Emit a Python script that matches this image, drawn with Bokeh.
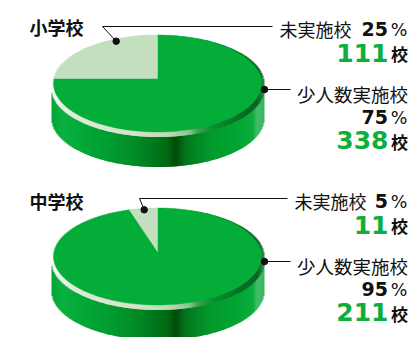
import numpy as np
from bokeh.embed import file_html
from bokeh.models import Range1d
from bokeh.plotting import figure
from bokeh.resources import INLINE
from bokeh.core.properties import value

# School survey data
panels = ["小学校", "中学校"]
not_done_pct = [25, 5]
small_done_pct = [75, 95]
not_done_count = [111, 11]
small_done_count = [338, 211]

GREEN = "#03ad38"
PALE = "#c3dfc0"
TEXT_GREEN = "#0dae3c"
BLACK = "#111111"
JP = "Noto Sans CJK JP"
LATIN = "DejaVu Sans"

# Shading stops across the cylinder wall: fraction of width, colour
wall_stops = [(0.0, "#06a836"), (0.05, "#0cb442"), (0.16, "#02aa38"), (0.3, "#029c30"),
              (0.45, "#028222"), (0.55, "#016a14"), (0.585, "#004c08"), (0.63, "#03761c"),
              (0.74, "#039a2c"), (0.88, "#02a834"), (0.95, "#0cb040"), (0.97, "#44c06c"),
              (1.0, "#3cba62")]
rim_stops = [(0.0, "#ffffff"), (0.04, "#f0f8ee"), (0.12, "#e2efdb"), (0.38, "#d8e9d0"),
             (0.55, "#c4ddbc"), (0.65, "#8cc894"), (0.69, "#3fa653"), (0.76, "#08932e"),
             (0.9, "#0a7026"), (0.97, "#0d6528"), (1.0, "#2c8a44")]


def rgb(h):
    return np.array([int(h[i:i + 2], 16) for i in (1, 3, 5)], float)


def shade(stops, t, stripe=0.0):
    xs = [s[0] for s in stops]
    cs = np.array([rgb(s[1]) for s in stops])
    ch = [np.interp(t, xs, cs[:, k]) for k in range(3)]
    # Fine vertical ribbing on the moulded edge
    rib = 1 - stripe * (np.arange(len(t)) % 2)
    return ["#%02x%02x%02x" % (int(a * f), int(c * f), int(d * f))
            for a, c, d, f in zip(*ch, rib)]


def label(p, x, y, txt, size, color=BLACK, style="normal", align="right", font=JP):
    p.text([x], [y], text=[txt], text_font=value(font), text_font_size=value(f"{size}px"),
           text_color=color, text_font_style=style, text_align=align, text_baseline="middle")


def strips(p, cx, rx):
    edges = np.arange(cx - rx, cx + rx + 0.01, 1.0)
    left, right = edges[:-1], edges[1:]
    mid = (left + right) / 2
    root = np.sqrt(np.clip(1 - ((mid - cx) / rx) ** 2, 0, 1))
    return left, right, (mid - left[0]) / (2 * rx), root


def sector(cx, ax, ay, off, rx, ry, rtop, start_pct, end_pct):
    # Percentages run clockwise from twelve o'clock around an apex set above the ellipse centre
    a = np.radians(np.linspace(start_pct, end_pct, 240) * 3.6)
    dx, dy = rx * np.sin(a), -rtop * np.cos(a)
    qa = (dx / rx) ** 2 + (dy / ry) ** 2
    qb = -2 * dy * off / ry ** 2
    qc = (off / ry) ** 2 - 1
    t = (-qb + np.sqrt(qb ** 2 - 4 * qa * qc)) / (2 * qa)
    return np.r_[ax, ax + t * dx], np.r_[ay, ay + t * dy]


def pie(p, cx, apex_y, pct_not, pct_small):
    rx, ry, off = 104, 48.5, 5
    cy = apex_y + off
    wall_rx = 106
    left, right, t, root = strips(p, cx, wall_rx)
    # Outer wall
    p.quad(left=left, right=right + 1, top=cy + 4 + ry * root, bottom=cy + 35 + ry * root,
           fill_color=shade(wall_stops, t, 0.03), fill_alpha=1.0, line_color=None)
    # Pale rim between wall and top face
    p.quad(left=left, right=right + 1, top=cy - ry * root, bottom=cy + 5 + ry * root,
           fill_color=shade(rim_stops, t, 0.035), fill_alpha=1.0, line_color=None)
    # Top face
    x, y = sector(cx, cx, apex_y, off, rx, ry, 50, 0, pct_small)
    p.patch(x, y, fill_color=GREEN, fill_alpha=1.0, line_color=GREEN, line_width=0.4)
    x, y = sector(cx, cx, apex_y, off, rx, ry, 50, pct_small, pct_small + pct_not)
    p.patch(x, y, fill_color=PALE, fill_alpha=1.0, line_color=PALE, line_width=0.4)


def callouts(p, i, top, kink_x, dot_x, dot_y, line_end, text_left):
    # Leader lines and labels for one disc; "top" is the y of its header row
    p.line([dot_x, kink_x, line_end], [dot_y, top, top], line_color=BLACK, line_width=1)
    p.scatter([dot_x], [dot_y], size=6.5, color=BLACK)
    r = top + 63
    p.line([264, 290], [r, r], line_color=BLACK, line_width=1)
    p.scatter([264], [r], size=6.5, color=BLACK)
    label(p, text_left, top + 2, "未実施校", 18, align="left")
    label(p, 387.5, top + 2, f"{not_done_pct[i]}", 19, style="bold", font=LATIN)
    label(p, 407, top + 3, "%", 17.5, font=LATIN)
    label(p, 388, top + 26, f"{not_done_count[i]}", 25, color=TEXT_GREEN, style="bold", font=LATIN)
    label(p, 407.5, top + 27, "校", 17, style="bold")
    label(p, 407.5, top + 67, "少人数実施校", 18.5)
    label(p, 387.5, top + 90, f"{small_done_pct[i]}", 19, style="bold", font=LATIN)
    label(p, 407, top + 91, "%", 17.5, font=LATIN)
    label(p, 388, top + 113, f"{small_done_count[i]}", 25, color=TEXT_GREEN, style="bold", font=LATIN)
    label(p, 407.5, top + 115, "校", 17, style="bold")


p = figure(width=414, height=337, output_backend="svg", toolbar_location=None,
           x_range=Range1d(0, 414), y_range=Range1d(337, 0), min_border=0,
           outline_line_color=None, background_fill_color="white")
p.axis.visible = False
p.grid.visible = False

# Upper disc (elementary schools)
pie(p, 157, 78, not_done_pct[0], small_done_pct[0])
label(p, 29, 26, panels[0], 18, style="bold", align="left")
callouts(p, 0, 26, 102, 115.7, 40.7, 272, 279)

# Lower disc (junior high schools)
pie(p, 157, 251, not_done_pct[1], small_done_pct[1])
label(p, 29, 200, panels[1], 18, style="bold", align="left")
callouts(p, 1, 198, 139, 143.7, 209.3, 287, 294)

open("out.html", "w").write(file_html(p, INLINE))
